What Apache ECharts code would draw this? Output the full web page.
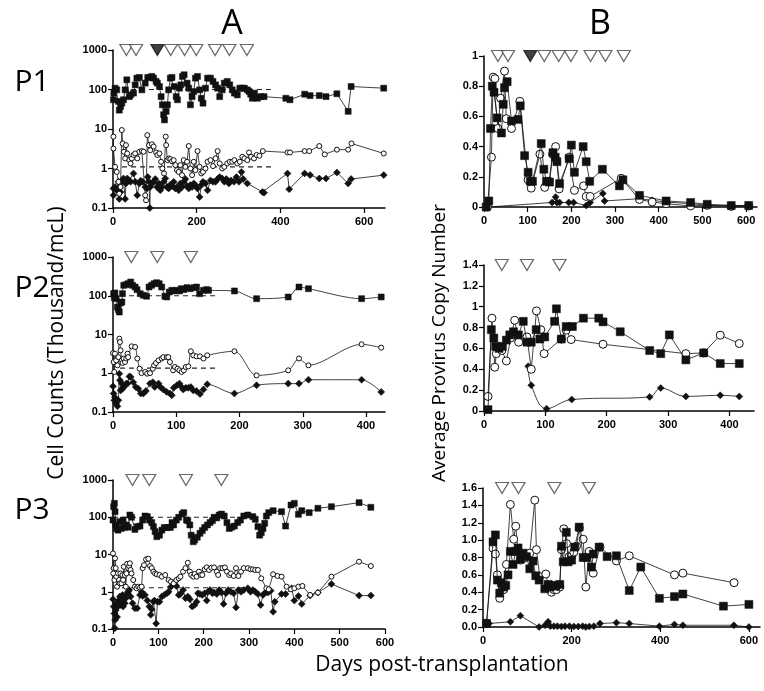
<!DOCTYPE html>
<html><head><meta charset="utf-8">
<script src="https://cdn.jsdelivr.net/npm/echarts@6/dist/echarts.min.js"></script>
<style>html,body{margin:0;padding:0;background:#fff}#c{width:764px;height:691px}</style>
</head><body><div id="c"></div>
<script>
// ---------- treatment days (triangles) ----------
const treatP1 = [32,55,106,138,171,199,244,278,320];
const treatP1Filled = [106];
const treatP2 = [29,70,123];
const treatP3 = [43,80,161,239];

// ---------- Panel A (cell counts, thousand/mcL) ----------
const p1aSq = [[1,55],[2,81],[5,108],[9,98],[13,50],[15,30],[18,37],[21,45],[25,55],[29,98],[33,176],[39,66],[42,73],[49,81],[53,131],[57,194],[63,202],[69,98],[77,145],[83,202],[89,202],[93,214],[97,194],[103,160],[106,145],[111,119],[115,66],[118,41],[121,23],[123,17],[127,28],[130,41],[133,98],[137,194],[141,202],[146,119],[151,66],[154,55],[159,108],[162,131],[166,214],[170,236],[177,145],[181,108],[185,41],[189,66],[193,89],[197,194],[202,214],[207,98],[211,60],[215,45],[221,108],[226,194],[233,194],[239,160],[245,131],[250,108],[255,66],[261,98],[266,145],[273,160],[279,131],[285,98],[290,81],[297,73],[303,108],[309,108],[314,108],[321,98],[325,89],[329,76],[333,60],[338,81],[345,60],[353,66],[361,66],[413,60],[423,55],[458,76],[471,70],[493,70],[509,66],[535,78],[562,28],[569,119],[647,108]];
const p1aCi = [[1,6.4],[1,3.2],[5,1.1],[9,0.82],[13,0.46],[15,0.23],[18,0.34],[21,9.4],[23,4.3],[26,2.65],[29,1.8],[31,3.9],[34,2.4],[39,1.63],[42,1.34],[45,1.8],[49,2.2],[53,2.4],[58,1.8],[63,2.65],[69,2.76],[73,2.65],[77,0.21],[79,0.157],[82,7.0],[86,3.9],[89,2.9],[93,4.1],[97,3.6],[103,2.55],[106,2.2],[111,2.4],[115,1.48],[118,1.0],[122,0.75],[126,6.4],[127,3.9],[130,1.63],[134,1.8],[137,1.73],[141,1.53],[145,1.63],[149,1.22],[153,0.91],[157,0.82],[161,1.22],[165,0.68],[169,1.63],[173,1.1],[177,1.48],[181,3.7],[185,1.0],[189,0.68],[193,1.48],[197,0.91],[202,2.76],[207,1.1],[211,0.75],[215,0.82],[221,1.0],[226,1.48],[233,1.63],[239,1.15],[245,1.8],[250,2.76],[255,1.34],[261,1.0],[266,1.1],[273,1.34],[279,1.48],[285,1.48],[290,1.63],[297,1.34],[303,1.48],[309,1.98],[314,1.8],[321,1.63],[325,2.55],[330,1.98],[337,1.8],[343,2.2],[350,2.1],[358,2.76],[417,2.55],[423,2.55],[458,2.76],[469,2.76],[493,3.7],[506,2.27],[535,3.0],[562,3.0],[570,4.3],[647,2.4]];
const p1aDi = [[1,0.31],[1,0.21],[5,0.34],[9,0.28],[13,0.46],[15,0.17],[18,0.255],[21,0.46],[25,0.56],[29,0.17],[31,0.42],[34,0.56],[39,0.5],[42,0.46],[49,0.75],[53,0.46],[58,0.21],[63,0.42],[66,0.49],[71,0.46],[77,0.34],[81,0.31],[83,0.61],[86,0.46],[88,0.1],[89,0.34],[93,0.42],[97,0.46],[101,0.54],[105,0.34],[109,0.42],[113,0.28],[117,0.34],[121,0.46],[125,0.56],[129,0.34],[133,0.31],[137,0.39],[141,0.36],[145,0.46],[149,0.31],[153,0.34],[157,0.28],[161,0.42],[165,0.34],[169,0.46],[173,0.54],[177,0.36],[181,0.31],[185,0.38],[189,0.34],[193,0.42],[197,0.38],[202,0.31],[207,0.19],[211,0.38],[215,0.46],[221,0.42],[226,0.28],[233,0.5],[239,0.46],[245,0.46],[250,0.54],[255,0.61],[261,0.56],[266,0.46],[271,0.54],[277,0.42],[282,0.5],[289,0.46],[295,0.61],[301,0.46],[307,0.82],[311,0.54],[321,0.42],[357,0.255],[361,0.245],[417,0.75],[421,0.3],[458,0.75],[471,0.68],[493,0.56],[509,0.56],[535,0.79],[562,0.42],[569,0.54],[647,0.68]];

const p2aSq = [[1,113],[2,89],[3,118],[5,84],[7,51],[8.5,44],[10,38],[12,65],[14,69],[15,113],[17,186],[21,193],[24,205],[28,226],[31,186],[35,168],[38,144],[43,113],[48,103],[53,97],[57,168],[61,186],[65,205],[69,217],[73,205],[77,168],[82,97],[85,93],[89,125],[93,138],[96,133],[101,138],[105,133],[108,152],[112,144],[117,162],[122,152],[128,162],[132,168],[137,113],[143,138],[148,144],[151,138],[192,133],[227,84],[277,93],[294,168],[309,152],[393,84],[424,93]];
const p2aCi = [[0,3.3],[1,1.95],[2,1.08],[3,3.2],[5,2.15],[7,1.6],[8.5,2.6],[10,7.8],[11,6.4],[12,3.9],[14,2.15],[15,1.84],[17,2.4],[19,1.95],[21,2.4],[23,3.2],[24,2.6],[29.5,4.95],[35,4.75],[38.5,2.4],[42,1.31],[45,1.01],[51,1.08],[54,0.975],[58.5,1.01],[63,1.31],[65,1.6],[68,1.84],[72,2.15],[77,2.4],[79.5,2.6],[85,2.6],[87.5,2.6],[90,1.95],[95,1.19],[98,1.45],[102,1.31],[105,1.19],[108.5,1.08],[112,1.19],[115,1.45],[119,1.5],[123,3.7],[127,2.9],[132,2.73],[137.5,2.73],[143,2.4],[149,2.9],[192,3.7],[227,0.88],[277,1.19],[294,2.4],[309,1.6],[393,5.6],[424,4.57]];
const p2aDi = [[0,0.46],[1,0.30],[2,0.20],[3,0.24],[5,0.164],[7,0.14],[8.5,0.20],[10,0.975],[11,0.66],[12,0.36],[14,0.54],[15,0.40],[17,0.44],[21,0.54],[23,0.54],[26,0.83],[28,0.80],[32,0.59],[36,0.44],[40,0.40],[44,0.30],[48,0.30],[52,0.35],[58.5,0.54],[63,0.59],[66,0.44],[72,0.54],[75,0.44],[79.5,0.38],[85,0.33],[90,0.30],[93,0.27],[96,0.42],[101,0.49],[105,0.54],[108.5,0.44],[111,0.38],[115,0.42],[119,0.42],[123,0.44],[127,0.36],[132,0.35],[137.5,0.29],[143,0.38],[149,0.52],[192,0.30],[227,0.49],[277,0.54],[294,0.54],[309,0.68],[393,0.68],[424,0.33]];

const p3aSq = [[0,84],[1.5,192],[3,236],[4.5,141],[6,62],[7.4,50],[11,45],[15,76],[18.6,50],[22.3,84],[26,54],[29.7,62],[33.5,54],[37.2,115],[40.9,100],[48.3,47],[53.5,56],[59.5,58],[65.4,84],[70.6,108],[75.8,104],[80.3,84],[85.5,72],[89.2,56],[92.9,41],[96.7,30],[102.6,33],[107.8,45],[113,53],[119,53],[126.4,53],[130.1,72],[133.8,62],[139.8,84],[145,100],[152.4,122],[156.1,133],[162,84],[165,81],[169.5,62],[172.5,33],[177,22],[180,24.5],[185.9,29],[191.8,37],[197,44],[202.2,53],[208.2,62],[214,72],[219.3,81],[223,100],[229,96],[234.2,115],[239.4,122],[245.4,108],[251.3,72],[256.5,50],[261.7,54],[267.7,58],[275,72],[281,84],[288.5,108],[297.4,115],[308.5,104],[313.8,88],[319.7,56],[323.4,33],[327.1,38.5],[330.9,50],[334.6,69],[338.3,108],[343.5,133],[353.2,150],[371.8,141],[380.7,58],[392.6,213],[400,236],[409,120],[416.4,150],[432.7,133],[452,174],[481.8,192],[542.8,247],[568.8,185]];
const p3aCi = [[0,10.7],[0.7,3.1],[1.5,4.3],[3,2.07],[4.5,7.9],[6,4.3],[7.4,2.54],[9,1.37],[11,3.1],[13.4,2.07],[15,1.68],[16.4,3.1],[18.6,1.68],[20.8,2.82],[22.3,2.07],[23.8,4.7],[26,2.82],[28.2,1.37],[29.7,3.1],[31.2,5.6],[33.5,4.3],[35.7,4.9],[37.2,5.8],[38.7,3.84],[40.9,3.1],[44.6,2.07],[48.3,1.37],[52,1.24],[55.8,1.37],[59.5,1.29],[63.2,1.37],[65.4,4.3],[68.4,5.2],[72.9,7.4],[78,7.7],[81.8,4.9],[85.5,4.3],[89.2,3.46],[92.9,3.1],[96.7,2.94],[102.6,2.82],[107.8,2.54],[115.2,2.82],[122.7,2.07],[127.9,1.87],[133.8,1.68],[139.8,2.07],[145,2.29],[148.7,2.54],[154.6,3.46],[159.9,4.3],[165,6.0],[169.5,3.46],[172.5,2.82],[177,2.54],[180,3.0],[184.4,2.54],[189.6,3.46],[193.3,2.82],[197,2.82],[202.2,4.0],[206.7,4.5],[211.9,3.84],[217.1,4.4],[223,4.5],[229,3.46],[232,2.82],[236.4,4.3],[241.6,4.3],[246.8,4.5],[251.3,3.46],[256.5,2.82],[260.2,3.1],[266.2,2.65],[271.4,4.3],[276.6,2.65],[282.5,3.46],[288.5,4.3],[297.4,4.3],[303.3,4.0],[308.5,4.0],[313.8,3.84],[319.7,3.84],[327.1,2.29],[338.3,1.24],[343.5,1.16],[353.2,2.94],[362.8,2.65],[371.8,2.54],[382.9,1.37],[392.6,1.16],[400,1.24],[409,1.37],[417.8,1.43],[434.9,0.82],[452,0.95],[481.8,2.54],[542.8,6.4],[568.8,4.9]];
const p3aDi = [[0,0.63],[1.5,0.40],[3,0.26],[4,0.105],[4.5,0.175],[6,0.32],[7.4,0.49],[9,0.21],[11,0.40],[13.4,0.60],[15,0.74],[16.4,0.44],[18.6,0.60],[20.8,0.82],[22.3,0.40],[26,0.49],[28.2,0.67],[31.2,0.91],[33.5,1.0],[35.7,1.11],[38.7,0.74],[43.1,0.49],[48.3,0.36],[53.5,0.36],[59.5,0.82],[63.2,1.0],[65.4,0.77],[70.6,0.82],[75.8,0.58],[80.3,0.40],[83.3,0.24],[85.5,0.34],[89.2,0.54],[91.4,0.58],[95.2,0.14],[98.1,0.54],[102.6,0.54],[107.8,0.74],[113,0.82],[119,0.91],[122.7,1.0],[127.9,1.37],[132.3,1.68],[135.3,1.75],[139.8,1.43],[145,0.82],[148.7,0.87],[154.6,1.11],[159.9,0.67],[165,0.74],[169.5,0.63],[174.7,0.40],[179.9,0.44],[184.4,0.54],[187.4,0.91],[191.8,0.87],[197,0.82],[202.2,0.91],[206.7,0.58],[209.7,1.0],[214,1.11],[219.3,0.91],[223,0.95],[229,0.87],[234.2,1.11],[239.4,0.95],[243.9,0.47],[249.1,0.91],[254.3,1.11],[260.2,1.0],[266.2,0.91],[271.4,0.38],[276.6,1.11],[282.5,1.0],[288.5,1.11],[297.4,1.24],[303.3,1.0],[308.5,1.11],[313.8,1.0],[319.7,0.87],[325.6,0.44],[330.9,0.82],[336.1,0.95],[342,0.95],[347.9,1.07],[353.2,0.29],[356.9,0.54],[371.8,0.87],[380.7,0.87],[394.1,1.24],[400,0.58],[409,0.77],[416.4,0.47],[434.9,0.79],[452,0.95],[481.8,1.61],[542.8,0.79],[568.8,0.79]];

// dashed reference ranges (panel A): [startDay, endDay, level]
const refA1 = [[0,377,100],[0,380,1.1]];
const refA2 = [[11,166,100],[11,166,1.35]];
const refA3 = [[0,288,100],[0,290,1.28]];

// ---------- Panel B (average provirus copy number) ----------
const p1bSq = [[5,0],[11,0.04],[15,0.52],[19,0.8],[23,0.76],[30,0.59],[40,0.49],[44,0.68],[47,0.79],[53,0.83],[63,0.57],[78,0.58],[83,0.67],[93,0.34],[101,0.23],[106,0.17],[111,0.17],[131,0.42],[137,0.25],[143,0.17],[150,0.165],[158,0.36],[163,0.33],[167,0.30],[173,0.155],[195,0.32],[200,0.41],[207,0.23],[227,0.40],[234,0.30],[242,0.17],[271,0.25],[310,0.14],[318,0.18],[356,0.077],[417,0.04],[473,0.03],[511,0.018],[566,0.01],[606,0.01]];
const p1bCi = [[8,0],[17,0.33],[21,0.86],[25,0.85],[32,0.52],[38,0.72],[47,0.9],[51,0.585],[63,0.52],[82,0.7],[101,0.18],[108,0.125],[128,0.35],[139,0.13],[149,0.17],[157,0.35],[164,0.40],[172,0.12],[195,0.33],[207,0.11],[228,0.14],[234,0.07],[243,0.07],[314,0.19],[356,0.05],[385,0.033],[417,0.022],[473,0.007],[511,0.011],[566,0.004],[606,0.007]];
const p1bDi = [[5,0],[11,0],[156,0.03],[164,0.066],[167,0.03],[173,0.03],[194,0.03],[205,0.03],[234,0.01],[243,0.03],[272,0.09],[276,0.04],[356,0.055],[385,0.044],[417,0.033],[473,0.022],[511,0.011],[566,0.011],[606,0.007]];

const p2bSq = [[6.5,0.013],[12,0.78],[16,0.70],[19,0.62],[24.5,0.60],[30,0.62],[36.5,0.68],[42,0.73],[48,0.76],[56,0.73],[64,0.86],[70,0.66],[77,0.66],[85,0.78],[91,0.69],[99,0.71],[115,0.86],[118,0.98],[126,0.69],[134,0.81],[144,0.81],[162,0.89],[187,0.89],[194,0.855],[222,0.76],[270,0.58],[288,0.55],[302,0.73],[329,0.49],[358,0.557],[385,0.455],[416,0.455]];
const p2bCi = [[6.5,0.14],[13,0.89],[17.5,0.42],[20,0.55],[29,0.58],[36.5,0.48],[43.5,0.70],[50,0.87],[56.5,0.66],[70,0.71],[77,0.40],[85.5,0.96],[92.5,0.78],[98,0.55],[126,0.69],[134,0.775],[142,0.685],[194,0.64],[329,0.55],[358,0.557],[385,0.727],[416,0.647]];
const p2bDi = [[72,0.43],[77,0.247],[102,0.022],[143,0.11],[270,0.135],[288,0.22],[329,0.14],[385,0.15],[416,0.14]];

const p3bSq = [[8,0.04],[22.6,0.98],[27.9,1.06],[32.4,0.54],[37.7,0.39],[41.5,0.51],[46.7,0.46],[51.3,0.48],[56.5,0.6],[61.8,0.87],[67.8,0.72],[73.9,0.87],[79.1,0.91],[84.4,0.78],[90.4,0.85],[98,0.81],[105.5,0.67],[113,0.76],[119,0.59],[126.6,0.54],[139.4,0.44],[146.9,0.49],[150.7,0.46],[158.2,0.48],[164.2,0.47],[173.3,0.49],[177,0.93],[181,0.75],[188,1.09],[192,0.75],[200,0.77],[207,0.92],[217,1.15],[226,0.80],[234,0.80],[245,0.69],[249,0.84],[262,0.92],[280,0.81],[301,0.82],[330,0.42],[356,0.69],[398,0.33],[432,0.35],[451,0.38],[542.5,0.24],[600,0.26]];
const p3bCi = [[8,0.046],[22.6,0.906],[27.9,0.84],[32.4,0.6],[37.7,0.33],[43.7,0.44],[46.7,0.43],[52.8,0.72],[61.8,1.41],[69.3,1.01],[73.9,1.16],[79.1,0.87],[84.4,0.77],[91.9,0.79],[105.5,0.85],[116.8,1.46],[120.6,0.89],[128.1,0.58],[141.6,0.61],[149.2,0.44],[154.5,0.40],[159.7,0.43],[165.8,0.43],[173.3,0.46],[177,0.89],[182.3,1.13],[188.4,0.96],[194.4,0.81],[199.7,0.81],[204.9,0.86],[211,0.93],[217,1.14],[226,1.01],[232,0.46],[239.6,0.87],[248.6,0.62],[264,0.92],[301,0.76],[330,0.82],[432,0.60],[451,0.62],[566.5,0.51]];
const p3bDi = [[8,0.03],[13.6,0.04],[61.8,0.06],[84.4,0.13],[126.6,0.0],[140,0.02],[147,0.06],[152,0.01],[160,0.01],[168,0.01],[177,0.005],[185,0.01],[195,0.01],[205,0.005],[215,0.005],[225,0.01],[232,0.0],[240,0.005],[250,0.01],[264,0.04],[301,0.05],[330,0.04],[398,0.01],[432,0.03],[451,0.02],[566,0.02],[600,0.0]];

// tick labels
const ticksA1 = [0,200,400,600];
const ticksA2 = [0,100,200,300,400];
const ticksA3 = [0,100,200,300,400,500,600];
const ticksB1 = [0,100,200,300,400,500,600];
const ticksB2 = [0,100,200,300,400];
const ticksB3 = [0,200,400,600];

// ---------- build ----------
const FONT = '"Liberation Sans Narrow","Liberation Sans",Arial,sans-serif';
const INK = '#111';
const grids = [
  {left:113, top:50, width:272, height:158},
  {left:113, top:257, width:272, height:155},
  {left:113, top:480, width:272, height:149},
  {left:484, top:56, width:273, height:151},
  {left:484, top:265, width:270, height:146},
  {left:483, top:488, width:277, height:139}
];
const xSpec = [[650,ticksA1],[430,ticksA2],[600,ticksA3],[625,ticksB1],[440,ticksB2],[625,ticksB3]];
const axisCommon = {
  axisLine:{show:true,onZero:false,lineStyle:{color:'#000',width:1.5}},
  axisTick:{show:true,inside:false,length:5,lineStyle:{color:'#000',width:1.2}},
  splitLine:{show:false},
  axisLabel:{color:'#000',fontWeight:'bold',fontSize:11,fontFamily:FONT,margin:6}
};
const xAxis = xSpec.map((s,i)=>({
  type:'value', gridIndex:i, min:0, max:s[0], interval: (s[1][1]-s[1][0]),
  ...axisCommon,
  axisTick:{...axisCommon.axisTick, customValues:s[1]},
  axisLabel:{...axisCommon.axisLabel, customValues:s[1], margin:8,
    formatter:v=> s[1].indexOf(v)>=0 ? String(v) : ''}
}));
const yAxis = [0,1,2].map(i=>({
  type:'log', logBase:10, gridIndex:i, min:0.1, max:1000,
  ...axisCommon,
  axisLabel:{...axisCommon.axisLabel, formatter:v=> v<0.5?'0.1':String(Math.round(v))}
})).concat([
  {max:1, fmt:v=> (v===0?'0':(Math.abs(v-1)<1e-9?'1':v.toFixed(1)))},
  {max:1.4, fmt:v=> (v===0?'0':(Math.abs(v-1)<1e-9?'1':v.toFixed(1)))},
  {max:1.6, fmt:v=> v.toFixed(1)}
].map((s,k)=>({
  type:'value', gridIndex:3+k, min:0, max:s.max, interval:0.2,
  ...axisCommon,
  axisLabel:{...axisCommon.axisLabel, formatter:s.fmt}
})));

const series = [];
function addLine(gi, data, kind, big, smooth){
  const sz = big ? {rect:8, circle:8, diamond:7} : {rect:6, circle:5, diamond:7};
  series.push({
    type:'line', xAxisIndex:gi, yAxisIndex:gi, data:data,
    symbol:kind, symbolSize:sz[kind], showSymbol:true, smooth:smooth||false,
    lineStyle:{color:INK,width:0.8},
    itemStyle: kind==='circle' ? {color:'#fff',borderColor:INK,borderWidth:1}
                                : {color:INK,borderColor:INK,borderWidth:0.5},
    z: kind==='circle'?3:(kind==='rect'?4:2),
    animation:false, silent:true
  });
}
function addRef(gi, refs){
  refs.forEach(r=>series.push({
    type:'line', xAxisIndex:gi, yAxisIndex:gi, data:[[r[0],r[2]],[r[1],r[2]]],
    symbol:'none', lineStyle:{color:'#222',width:1.2,type:[5,4]}, z:1, animation:false, silent:true
  }));
}
function addTri(gi, days, top, filled){
  series.push({
    type:'scatter', xAxisIndex:gi, yAxisIndex:gi, clip:false,
    data: days.map(d=>({value:[d,top], itemStyle: (filled||[]).indexOf(d)>=0 ? {color:'#111',borderColor:'#111'} : {color:'#fff',borderColor:'#444'}})),
    symbol:'triangle', symbolRotate:180, symbolSize:[13,11],
    itemStyle:{borderWidth:1.2}, z:6, animation:false, silent:true
  });
}
// Panel A
addRef(0, refA1); addRef(1, refA2); addRef(2, refA3);
addLine(0,p1aDi,'diamond'); addLine(0,p1aCi,'circle'); addLine(0,p1aSq,'rect');
addLine(1,p2aDi,'diamond',false,0.3); addLine(1,p2aCi,'circle',false,0.3); addLine(1,p2aSq,'rect',false,0.3);
addLine(2,p3aDi,'diamond'); addLine(2,p3aCi,'circle'); addLine(2,p3aSq,'rect');
// Panel B
addLine(3,p1bDi,'diamond',true); addLine(3,p1bCi,'circle',true); addLine(3,p1bSq,'rect',true);
addLine(4,p2bDi,'diamond',true,0.4); addLine(4,p2bCi,'circle',true); addLine(4,p2bSq,'rect',true);
addLine(5,p3bDi,'diamond',true); addLine(5,p3bCi,'circle',true); addLine(5,p3bSq,'rect',true);
// triangles
addTri(0,treatP1,1000,treatP1Filled); addTri(3,treatP1,1,treatP1Filled);
addTri(1,treatP2,1000); addTri(4,treatP2,1.4);
addTri(2,treatP3,1000); addTri(5,treatP3,1.6);

function txt(t, x, y, size, rot){
  return {type:'text', x:x, y:y, rotation:rot||0, silent:true,
    style:{text:t, fill:'#000', fontSize:size, fontFamily:'"Open Sans","Noto Sans",sans-serif', align:'center', verticalAlign:'middle'}};
}
const option = {
  animation:false, backgroundColor:'#fff',
  grid: grids.map(g=>({...g, containLabel:false, outerBoundsMode:'none'})),
  xAxis, yAxis, series,
  graphic:[
    txt('A',232,24,34), txt('B',600,24,34),
    txt('P1',32,82,30), txt('P2',32,288,30), txt('P3',32,510,30),
    txt('Cell Counts (Thousand/mcL)',57,343,21,Math.PI/2),
    txt('Average Provirus Copy Number',440,343,19,Math.PI/2),
    txt('Days post-transplantation',442,665,21)
  ]
};
const chart = echarts.init(document.getElementById('c'), null, {renderer:'canvas'});
chart.setOption(option);
</script></body></html>
